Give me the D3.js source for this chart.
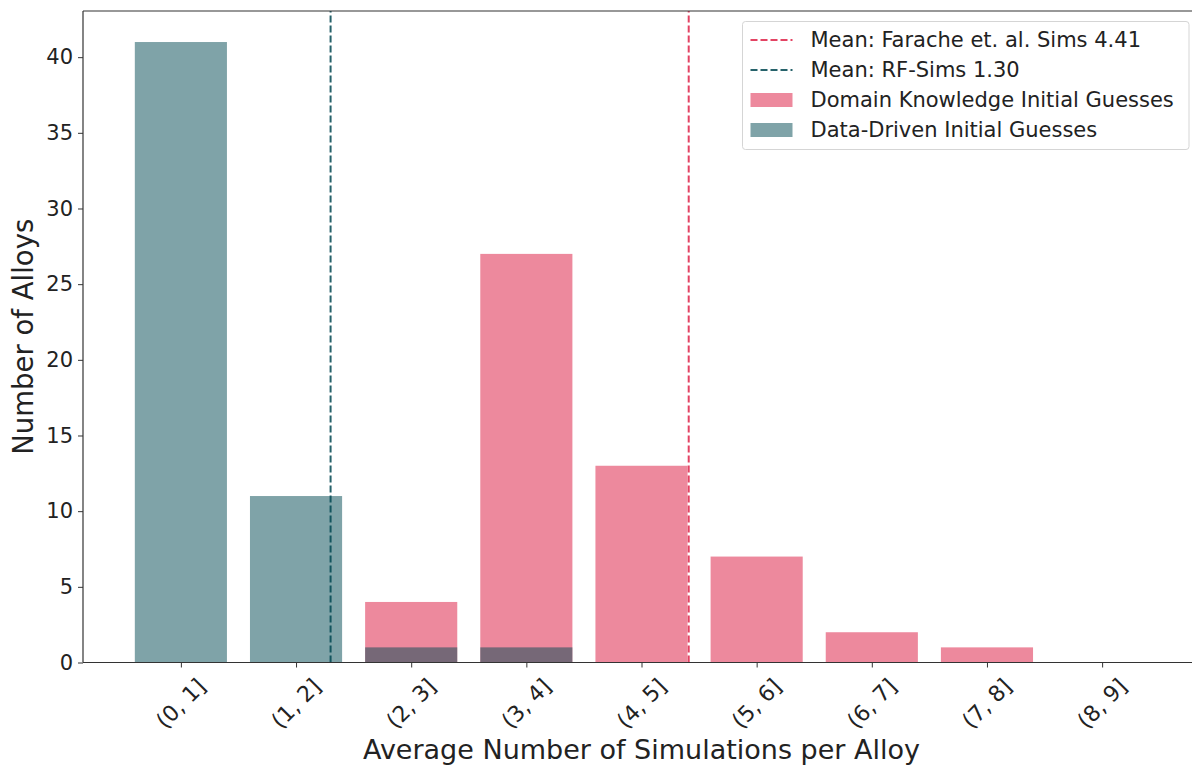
<!DOCTYPE html>
<html>
<head>
<meta charset="UTF-8">
<script src="https://cdn.jsdelivr.net/npm/d3@7"></script>
<style>
    body { margin: 0; background: #fff; }
    svg { display: block; font-family: 'DejaVu Sans', sans-serif; }
</style>
</head>
<body>
<div id="chart"></div>
<script>
// bins and counts
const categories = ["(0, 1]", "(1, 2]", "(2, 3]", "(3, 4]", "(4, 5]", "(5, 6]", "(6, 7]", "(7, 8]", "(8, 9]"];
const domainCounts = [0, 0, 4, 27, 13, 7, 2, 1, 0];
const dataDrivenCounts = [41, 11, 1, 1, 0, 0, 0, 0, 0];
const meanFarache = 4.41;
const meanRF = 1.30;
const yTicks = [0, 5, 10, 15, 20, 25, 30, 35, 40];

const W = 1192, H = 767;
const margin = {left: 83, top: 11, right: -8, bottom: 104.5};

const svg = d3.select("#chart").append("svg")
    .attr("width", W)
    .attr("height", H);

const x = d3.scaleLinear()
    .domain([-0.85, 8.85])
    .range([margin.left, W - margin.right]);
const y = d3.scaleLinear()
    .domain([0, 43.05])
    .range([H - margin.bottom, margin.top]);

const barW = 0.8;
const pink = "#dc143c", teal = "#004751";

// domain knowledge first, data-driven on top
svg.append("g").selectAll("rect")
    .data(domainCounts)
    .join("rect")
    .attr("x", (d, i) => x(i - barW / 2))
    .attr("width", x(barW) - x(0))
    .attr("y", d => y(d))
    .attr("height", d => y(0) - y(d))
    .attr("fill", pink)
    .attr("fill-opacity", 0.5);

svg.append("g").selectAll("rect")
    .data(dataDrivenCounts)
    .join("rect")
    .attr("x", (d, i) => x(i - barW / 2))
    .attr("width", x(barW) - x(0))
    .attr("y", d => y(d))
    .attr("height", d => y(0) - y(d))
    .attr("fill", teal)
    .attr("fill-opacity", 0.5);

// mean lines
const means = [
    {v: meanFarache, c: pink, o: 0.8},
    {v: meanRF, c: teal, o: 0.85}
];
svg.append("g").selectAll("line")
    .data(means)
    .join("line")
    .attr("x1", d => x(d.v)).attr("x2", d => x(d.v))
    .attr("y1", y.range()[0]).attr("y2", y.range()[1])
    .attr("stroke", d => d.c)
    .attr("stroke-opacity", d => d.o)
    .attr("stroke-width", 2)
    .attr("stroke-dasharray", "7,3");

// spines
const frame = svg.append("g").attr("stroke", "#333").attr("stroke-width", 1.2).attr("fill", "none");
frame.append("line").attr("x1", margin.left).attr("x2", margin.left).attr("y1", y(0)).attr("y2", margin.top);
frame.append("line").attr("x1", margin.left).attr("x2", W).attr("y1", y(0)).attr("y2", y(0));
frame.append("line").attr("x1", margin.left).attr("x2", W).attr("y1", margin.top).attr("y2", margin.top);

// y axis
const yAxis = svg.append("g")
    .attr("transform", `translate(${margin.left},0)`)
    .call(d3.axisLeft(y).tickValues(yTicks).tickSize(5).tickPadding(5));
yAxis.select(".domain").remove();
yAxis.selectAll("line").attr("stroke", "#333");
yAxis.selectAll("text").attr("font-size", 21).attr("fill", "#222").attr("font-family", "DejaVu Sans");

// x axis
const xAxis = svg.append("g")
    .attr("transform", `translate(0,${y(0)})`)
    .call(d3.axisBottom(x).tickValues(d3.range(categories.length)).tickSize(5).tickFormat(""));
xAxis.select(".domain").remove();
xAxis.selectAll("line").attr("stroke", "#333");

svg.append("g").selectAll("text")
    .data(categories)
    .join("text")
    .attr("transform", (d, i) => `translate(${x(i)},${y(0) + 41}) rotate(-45)`)
    .attr("text-anchor", "middle")
    .attr("dominant-baseline", "central")
    .attr("font-size", 22)
    .attr("fill", "#222")
    .text(d => d);

// axis titles
svg.append("text")
    .attr("x", (margin.left + x(8.85)) / 2)
    .attr("y", 759)
    .attr("text-anchor", "middle")
    .attr("font-size", 27)
    .attr("fill", "#222")
    .text("Average Number of Simulations per Alloy");

svg.append("text")
    .attr("transform", `translate(33,${(y(0) + margin.top) / 2}) rotate(-90)`)
    .attr("text-anchor", "middle")
    .attr("font-size", 27.5)
    .attr("fill", "#222")
    .text("Number of Alloys");

// legend
const legendItems = [
    {label: "Mean: Farache et. al. Sims " + meanFarache.toFixed(2), type: "line", c: pink, o: 0.8},
    {label: "Mean: RF-Sims " + meanRF.toFixed(2), type: "line", c: teal, o: 0.85},
    {label: "Domain Knowledge Initial Guesses", type: "rect", c: pink, o: 0.5},
    {label: "Data-Driven Initial Guesses", type: "rect", c: teal, o: 0.5}
];
const lg = svg.append("g").attr("transform", "translate(742.5,21.5)");
lg.append("rect")
    .attr("width", 446.5).attr("height", 128)
    .attr("rx", 3)
    .attr("fill", "#fff").attr("fill-opacity", 0.8)
    .attr("stroke", "#d5d5d5");
const rows = lg.selectAll("g.row")
    .data(legendItems)
    .join("g")
    .attr("class", "row")
    .attr("transform", (d, i) => `translate(0,${18.5 + i * 30})`);
rows.filter(d => d.type === "line").append("line")
    .attr("x1", 8).attr("x2", 50)
    .attr("stroke", d => d.c).attr("stroke-opacity", d => d.o)
    .attr("stroke-width", 2).attr("stroke-dasharray", "7,3");
rows.filter(d => d.type === "rect").append("rect")
    .attr("x", 8).attr("y", -7).attr("width", 42).attr("height", 14)
    .attr("fill", d => d.c).attr("fill-opacity", d => d.o);
rows.append("text")
    .attr("x", 68)
    .attr("dominant-baseline", "central")
    .attr("font-size", 21)
    .attr("fill", "#222")
    .text(d => d.label);
</script>
</body>
</html>
